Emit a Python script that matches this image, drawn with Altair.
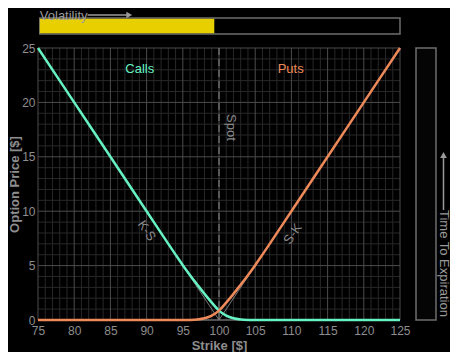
import altair as alt
import pandas as pd

# ---- data ----
strikes = [75, 80, 85, 90, 93, 94, 95, 96, 97, 98, 99, 100, 101, 102, 103, 104, 105,
           106, 107, 110, 115, 120, 125]
call_prices = [25, 20, 15, 10, 7.0, 6.01, 5.04, 4.12, 3.25, 2.4, 1.6, 0.86, 0.4, 0.16,
               0.05, 0.01, 0, 0, 0, 0, 0, 0, 0]
put_prices = [0, 0, 0, 0, 0, 0, 0, 0.01, 0.05, 0.16, 0.4, 0.86, 1.6, 2.4, 3.25, 4.12,
              5.04, 6.01, 7.0, 10, 15, 20, 25]
intrinsic_strikes = [75, 100, 125]
intrinsic_call = [25, 0, 0]
intrinsic_put = [0, 0, 25]
x_major = [75, 80, 85, 90, 95, 100, 105, 110, 115, 120, 125]
x_minor = [v for v in range(75, 126) if v % 5 != 0]
y_major = [0, 5, 10, 15, 20, 25]
y_minor = [v for v in range(0, 26) if v % 5 != 0]
spot = 100
volatility = 0.487
time_to_expiration = 0.0

series_names = ["Calls", "Puts"]
series_label_x = [89.05, 109.9]
series_label_y = [23.06, 23.06]
payoff_labels = ["K-S", "S-K"]
payoff_x = [90.0, 110.2]
payoff_y = [8.2, 7.9]
payoff_angle = [56, 304]

GREEN = "#66F2C2"
ORANGE = "#EE8A5A"
TEXT = "#8e8e8e"
FONT = "Liberation Sans"

W, H = 362, 272
VH = 26
RW = 33

xs = alt.Scale(domain=[75, 125], nice=False, zero=False)
ys = alt.Scale(domain=[0, 25], nice=False, zero=True)
AX = alt.Axis(values=x_major, grid=False, ticks=False, domain=False, labelPadding=5,
              labelColor=TEXT, labelFontSize=12, labelFont=FONT, title="Strike [$]",
              titleColor=TEXT, titleFontSize=13, titleFont=FONT, titleFontWeight="bold",
              titlePadding=3, labelFlush=False)
AY = alt.Axis(values=y_major, grid=False, ticks=False, domain=False, labelPadding=3,
              labelColor=TEXT, labelFontSize=12, labelFont=FONT, title="Option Price [$]",
              titleColor=TEXT, titleFontSize=13, titleFont=FONT, titleFontWeight="bold",
              titlePadding=0, labelFlush=False)


def X(field="strike"):
    return alt.X(f"{field}:Q", scale=xs, axis=AX, title="Strike [$]")


def Y(field="price"):
    return alt.Y(f"{field}:Q", scale=ys, axis=AY, title="Option Price [$]")


n = len(strikes)
curves = pd.DataFrame({"strike": strikes * 2, "price": call_prices + put_prices,
                       "type": ["Calls"] * n + ["Puts"] * n})
intr = pd.DataFrame({"strike": intrinsic_strikes * 2,
                     "price": intrinsic_call + intrinsic_put,
                     "type": ["c"] * 3 + ["p"] * 3})

grid_xminor = alt.Chart(pd.DataFrame({"strike": x_minor})).mark_rule(
    color="#282828", strokeWidth=1).encode(x=X())
grid_yminor = alt.Chart(pd.DataFrame({"price": y_minor})).mark_rule(
    color="#282828", strokeWidth=1).encode(y=Y())
grid_xmajor = alt.Chart(pd.DataFrame({"strike": x_major})).mark_rule(
    color="#4c4c4c", strokeWidth=1).encode(x=X())
grid_ymajor = alt.Chart(pd.DataFrame({"price": y_major})).mark_rule(
    color="#4c4c4c", strokeWidth=1).encode(y=Y())

spot_rule = alt.Chart(pd.DataFrame({"strike": [spot]})).mark_rule(
    color="#8a8a8a", strokeWidth=1, strokeDash=[7, 4]).encode(x=X())

intr_lines = alt.Chart(intr).mark_line(color="#7a7a7a", strokeWidth=1).encode(
    x=X(), y=Y(), detail="type:N")

lines = alt.Chart(curves).mark_line(strokeWidth=2.5, interpolate="monotone").encode(
    x=X(), y=Y(),
    color=alt.Color("type:N", scale=alt.Scale(domain=series_names, range=[GREEN, ORANGE]),
                    legend=None))

name_df = pd.DataFrame({"strike": series_label_x, "price": series_label_y,
                        "name": series_names})
names = alt.Chart(name_df).mark_text(fontSize=13, font=FONT, align="center",
                                     baseline="middle").encode(
    x=X(), y=Y(), text="name:N",
    color=alt.Color("name:N", scale=alt.Scale(domain=series_names, range=[GREEN, ORANGE]),
                    legend=None))

spot_text = alt.Chart(pd.DataFrame({"strike": [101.6], "price": [17.7], "t": ["Spot"]})
                      ).mark_text(fontSize=13, font=FONT, angle=90, color="#8a8a8a",
                                  align="center", baseline="middle").encode(
    x=X(), y=Y(), text="t:N")

pay_df = pd.DataFrame({"strike": payoff_x, "price": payoff_y, "t": payoff_labels,
                       "a": payoff_angle})
pay_text = alt.Chart(pay_df).mark_text(fontSize=13, font=FONT, color="#8a8a8a",
                                       align="center", baseline="middle").encode(
    x=X(), y=Y(), text="t:N", angle=alt.Angle("a:Q", scale=None))

main = alt.layer(grid_xminor, grid_yminor, grid_xmajor, grid_ymajor, intr_lines,
                 spot_rule, lines, names, spot_text, pay_text).properties(width=W, height=H)

# ---- volatility bar (top) ----
vx = alt.Scale(domain=[0, 1], nice=False, zero=False)
vy = alt.Scale(domain=[0, VH], nice=False, zero=False)


def VX(f):
    return alt.X(f"{f}:Q", scale=vx, axis=None)


def VY(f):
    return alt.Y(f"{f}:Q", scale=vy, axis=None)


vol_frame = alt.Chart(pd.DataFrame({"a": [0.005], "b": [1.0], "y0": [0], "y1": [16]})
                      ).mark_bar(fill="#000000", stroke="#6e6e6e", strokeWidth=1.5).encode(
    x=VX("a"), x2="b:Q", y=VY("y0"), y2="y1:Q")
vol_fill = alt.Chart(pd.DataFrame({"a": [0.005], "b": [volatility], "y0": [0.8], "y1": [15.2]})
                     ).mark_bar(fill="#E8D000").encode(
    x=VX("a"), x2="b:Q", y=VY("y0"), y2="y1:Q")
vol_text = alt.Chart(pd.DataFrame({"a": [0.005], "y": [18.0], "t": ["Volatility"]})
                     ).mark_text(fontSize=13, font=FONT, color="#9a9a9a", align="left",
                                 baseline="middle").encode(
    x=VX("a"), y=VY("y"), text="t:N")
vol_arrow = alt.Chart(pd.DataFrame({"a": [0.137], "b": [0.25], "y": [19.0]})
                      ).mark_rule(color="#9a9a9a", strokeWidth=1.5).encode(
    x=VX("a"), x2="b:Q", y=VY("y"))
vol_head = alt.Chart(pd.DataFrame({"a": [0.252], "y": [19.0]})).mark_point(
    shape="triangle-right", filled=True, color="#9a9a9a", size=45, opacity=1).encode(
    x=VX("a"), y=VY("y"))
vol_panel = alt.layer(vol_frame, vol_fill, vol_text, vol_arrow, vol_head).properties(
    width=W, height=VH)

# ---- empty corner cell ----
blank = alt.Chart(pd.DataFrame({"a": [0.5]})).mark_point(opacity=0, size=1).encode(
    x=alt.X("a:Q", axis=None, scale=alt.Scale(domain=[0, 1])),
    y=alt.Y("a:Q", axis=None, scale=alt.Scale(domain=[0, 1]))).properties(width=RW, height=VH)

# ---- time to expiration bar (right) ----
rx = alt.Scale(domain=[0, RW], nice=False, zero=False)
ry = alt.Scale(domain=[0, H], nice=False, zero=False)


def RX(f):
    return alt.X(f"{f}:Q", scale=rx, axis=None)


def RY(f):
    return alt.Y(f"{f}:Q", scale=ry, axis=None)


t_frame = alt.Chart(pd.DataFrame({"a": [0], "b": [20], "y0": [0], "y1": [H]})
                    ).mark_bar(fill="#050505", stroke="#6e6e6e", strokeWidth=1.5).encode(
    x=RX("a"), x2="b:Q", y=RY("y0"), y2="y1:Q")
t_fill = alt.Chart(pd.DataFrame({"a": [0], "b": [20], "y0": [0],
                                 "y1": [time_to_expiration * H]})
                   ).mark_bar(fill="#E8D000").encode(
    x=RX("a"), x2="b:Q", y=RY("y0"), y2="y1:Q")
t_text = alt.Chart(pd.DataFrame({"a": [27.5], "y": [110], "t": ["Time To Expiration"]})
                   ).mark_text(fontSize=13, font=FONT, color="#9a9a9a", angle=90,
                               align="left", baseline="middle").encode(
    x=RX("a"), y=RY("y"), text="t:N")
t_arrow = alt.Chart(pd.DataFrame({"a": [27.5], "y0": [110], "y1": [164]})
                    ).mark_rule(color="#9a9a9a", strokeWidth=1.5).encode(
    x=RX("a"), y=RY("y0"), y2="y1:Q")
t_head = alt.Chart(pd.DataFrame({"a": [27.5], "y": [165]})).mark_point(
    shape="triangle-up", filled=True, color="#9a9a9a", size=45, opacity=1).encode(
    x=RX("a"), y=RY("y"))
time_panel = alt.layer(t_frame, t_fill, t_text, t_arrow, t_head).properties(
    width=RW, height=H)

chart = alt.concat(vol_panel, blank, main, time_panel, columns=2,
                   spacing=alt.RowColnumber(row=14, column=16),
                   bounds="flush", align="each").properties(
    padding=0, background="#000000"
).configure(font=FONT).configure_view(stroke=None)

chart.save("out.html", embed_options={"renderer": "svg", "actions": False})
